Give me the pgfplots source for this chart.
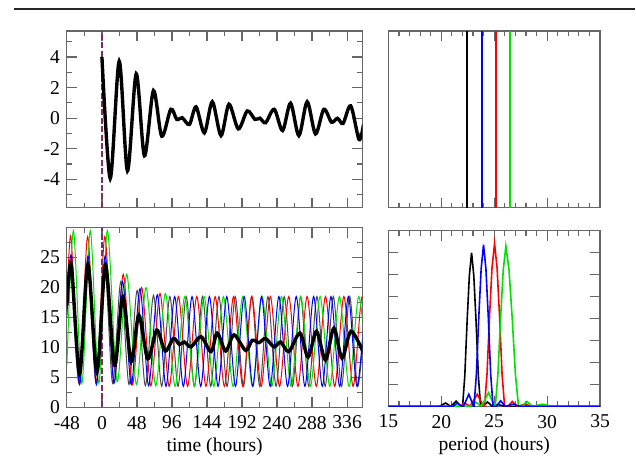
\documentclass[border=0pt]{standalone}
\usepackage{fontspec}
\setmainfont{Liberation Serif}
\usepackage{pgfplots}
\usepackage{pgfplotstable}
\pgfplotsset{compat=1.18}

\definecolor{maroonc}{RGB}{125,45,95}
\definecolor{grn}{RGB}{0,225,0}

% period traces of the four oscillators (extrema), time in hours
\pgfplotstableread{
t v
-48 16
-43 24
-31.5 4
-20 24
-8 4
3.5 24
14.7 4
25.9 21
37.1 3.8
48.3 19.5
59.5 3.6
70.7 18.7
81.9 3.5
93.1 18.5
104.3 3.5
115.5 18.5
126.7 3.5
137.9 18.5
149.1 3.5
160.3 18.5
171.5 3.5
182.7 18.5
193.9 3.5
205.1 18.5
216.3 3.5
227.5 18.5
238.7 3.5
249.9 18.5
261.1 3.5
272.3 18.5
283.5 3.5
294.7 18.5
305.9 3.5
317.1 18.5
328.3 3.5
339.5 18.5
350.7 3.5
361.9 18.5
}\oscblack

\pgfplotstableread{
t v
-48 15
-42 25.3
-30.5 3.8
-19 25.3
-7.5 3.8
4.5 25.3
16.4 4
28.3 21
40.2 3.8
52.1 19.8
64.0 3.6
75.9 18.8
87.8 3.5
99.7 18.5
111.6 3.5
123.5 18.5
135.4 3.5
147.3 18.5
159.2 3.5
171.1 18.5
183.0 3.5
194.9 18.5
206.8 3.5
218.7 18.5
230.6 3.5
242.5 18.5
254.4 3.5
266.3 18.5
278.2 3.5
290.1 18.5
302.0 3.5
313.9 18.5
325.8 3.5
337.7 18.5
349.6 3.5
361.5 18.5
}\oscblue

\pgfplotstableread{
t v
-48 16
-42.5 28.5
-31 4
-19.5 28.5
-7.7 4
4 28.5
16.6 4.2
29.2 22.2
41.8 3.8
54.4 20
67.0 3.6
79.6 19
92.2 3.5
104.8 18.5
117.4 3.5
130.0 18.5
142.6 3.5
155.2 18.5
167.8 3.5
180.4 18.5
193.0 3.5
205.6 18.5
218.2 3.5
230.8 18.5
243.4 3.5
256.0 18.5
268.6 3.5
281.2 18.5
293.8 3.5
306.4 18.5
319.0 3.5
331.6 18.5
344.2 3.5
356.8 18.5
369.4 3.5
}\oscred

\pgfplotstableread{
t v
-48 7
-39 29.5
-27.5 4
-16 29.5
-4.25 4
7.5 29.5
20.75 4.3
34.0 22.2
47.25 3.8
60.5 20
73.75 3.6
87.0 19
100.25 3.5
113.5 18.5
126.75 3.5
140.0 18.5
153.25 3.5
166.5 18.5
179.75 3.5
193.0 18.5
206.25 3.5
219.5 18.5
232.75 3.5
246.0 18.5
259.25 3.5
272.5 18.5
285.75 3.5
299.0 18.5
312.25 3.5
325.5 18.5
338.75 3.5
352.0 18.5
365.25 3.5
}\oscgreen

\pgfplotstableread{
t v
-48 17
-42 23.9
-30.6 5.6
-19.2 23.9
-6.8 5.9
4.9 23.7
17.3 7.0
28.7 18.5
40.1 7.6
50.6 15.4
62.9 8.1
75.2 12.9
86.6 9.4
98 11.5
106.2 10.5
113 10.9
122.2 10.1
135.8 11.8
149.5 9.3
158 12.4
169.6 9.4
181 12.1
197 9.5
206 11.2
215.2 10.8
224.3 11.5
235.7 10.1
244.9 10.9
256.2 9.3
271.3 12.4
282.6 8.4
294.1 12.7
306.4 7.9
317.8 13.2
329.1 8.2
341.4 12.7
358.8 9.0
}\oscmean

\pgfplotstableread{
t v
0 4.0
11.4 -3.94
23.7 3.72
35 -3.44
47 2.9
58.3 -2.46
70.6 1.8
82 -1.18
94.4 0.58
102.6 -0.08
110 0.03
119.9 -0.41
129 0.74
140.4 -0.96
151.3 1.07
163.2 -1.14
174.1 0.91
186.9 -0.7
199.2 0.47
209.7 -0.08
216.5 0.0
224.3 -0.3
236.1 0.58
247.6 -0.81
258.5 0.98
269.9 -1.14
281.3 1.07
292.7 -1.03
304.1 0.58
314.6 -0.26
322.8 -0.01
330.5 -0.34
341 0.8
352.4 -1.4
358.5 -0.4
}\phasediff

% spectra, period in hours
\pgfplotstableread{
p s
15 0
19.8 0
20.4 0.15
20.9 0
21.4 0.24
21.85 0
22.01 0
22.22 1.4
22.435 3.85
22.65 5.95
22.86 7.0
23.07 5.95
23.285 3.85
23.5 1.4
23.71 0
23.95 0
24.37 0.2
24.8 0
25.4 0.08
26.0 0
35 0
}\specblack

\pgfplotstableread{
p s
15 0
21.1 0
21.5 0.15
21.95 0
22.1 0
22.6 0.55
23.05 0
23.09 0
23.315 1.47
23.54 4.05
23.765 6.26
23.99 7.36
24.215 6.26
24.44 4.05
24.665 1.47
24.89 0
25.2 0
25.6 0.25
26.05 0
26.8 0.1
27.4 0
35 0
}\specblue

\pgfplotstableread{
p s
15 0
21.8 0
22.2 0.15
22.7 0
23.4 0.55
24.0 0
24.08 0
24.32 1.48
24.555 4.08
24.79 6.3
25.03 7.41
25.27 6.3
25.505 4.08
25.74 1.48
25.98 0
26.3 0
26.7 0.22
27.2 0
27.9 0.1
28.5 0
35 0
}\specred

\pgfplotstableread{
p s
15 0
22.7 0
23.2 0.2
23.8 0
24.46 0.62
25.05 0
25.1 0
25.35 1.46
25.6 4.0
25.85 6.2
26.1 7.29
26.4 6.2
26.7 4.0
27.0 1.46
27.3 0
27.6 0
28.1 0.22
28.6 0
29.6 0.1
30.3 0
35 0
}\specgreen

\pgfplotsset{
  panel/.style={
    scale only axis, anchor=south west,
    axis line style={black!60, line width=0.6pt},
    tick style={black!60, line width=0.6pt},
    major tick length=5pt, minor tick length=2.5pt,
    tick label style={font=\fontsize{9.8}{11}\selectfont},
    xticklabel style={yshift=-0.8pt},
    label style={font=\fontsize{9.8}{11}\selectfont},
    xlabel style={yshift=2.6pt},
    /pgf/number format/assume math mode=true,
  },
  timeaxis/.style={
    xmin=-48, xmax=357,
    xtick={-48,0,48,96,144,192,240,288,336},
    minor xtick={-24,24,72,120,168,216,264,312},
  },
  periodaxis/.style={
    xmin=15, xmax=35,
    xtick={15,20,25,30,35},
    minor xtick={16,17,18,19,21,22,23,24,26,27,28,29,31,32,33,34},
  },
}

\begin{document}
\begin{tikzpicture}
\path (0pt,0pt) rectangle (318pt,235pt);
\draw[line width=1pt, black!85] (7pt,230.6pt) -- (318pt,230.6pt);

% top left
\begin{axis}[panel, timeaxis, at={(33.5pt,131pt)}, width=148pt, height=88.5pt,
    ymin=-5.85, ymax=5.7, xticklabels={},
    ytick={-4,-2,0,2,4}, yticklabels={-4,-2,0,2,4},
    minor ytick={-5,-3,-1,1,3,5}]
  \addplot[maroonc, line width=0.7pt, dash pattern=on 3pt off 1.2pt] coordinates {(0,-5.85) (0,5.7)};
  \addplot[black, line width=1.7pt, smooth] table[x=t, y=v] {\phasediff};
\end{axis}

% bottom left
\begin{axis}[panel, timeaxis, at={(33.5pt,31pt)}, width=148pt, height=90pt,
    ymin=0, ymax=30,
    xticklabels={-48,0,48,96,144,192,240,288,336},
    ytick={0,5,10,15,20,25}, yticklabels={0,5,10,15,20,25},
    minor ytick={2.5,7.5,12.5,17.5,22.5,27.5},
    xlabel={time (hours)}]
  \addplot[black!70, line width=0.5pt, smooth] table[x=t, y=v] {\oscblack};
  \addplot[red, line width=0.5pt, smooth] table[x=t, y=v] {\oscred};
  \addplot[grn, line width=0.5pt, smooth] table[x=t, y=v] {\oscgreen};
  \addplot[blue, line width=0.5pt, smooth] table[x=t, y=v] {\oscblue};
  \addplot[maroonc, line width=0.7pt, dash pattern=on 3pt off 1.2pt] coordinates {(0,0) (0,30)};
  \addplot[black, line width=1.7pt, smooth] table[x=t, y=v] {\oscmean};
\end{axis}

% top right
\begin{axis}[panel, periodaxis, at={(194.5pt,131pt)}, width=106pt, height=88.5pt,
    ymin=0, ymax=1, xticklabels={}, ytick=\empty]
  \addplot[black, line width=1pt] coordinates {(22.4,0) (22.4,1)};
  \addplot[blue, line width=1pt] coordinates {(23.8,0) (23.8,1)};
  \addplot[red, line width=1pt] coordinates {(25.2,0) (25.2,1)};
  \addplot[grn, line width=1pt] coordinates {(26.5,0) (26.5,1)};
\end{axis}

% bottom right
\begin{axis}[panel, periodaxis, at={(194.5pt,31.5pt)}, width=106pt, height=88pt,
    ymin=0, ymax=8, ytick={1,2,3,4,5,6,7}, yticklabels={},
    xticklabels={15,20,25,30,35},
    xlabel={period (hours)}]
  \addplot[black, line width=0.8pt] table[x=p, y=s] {\specblack};
  \addplot[red, line width=0.8pt] table[x=p, y=s] {\specred};
  \addplot[grn, line width=0.8pt] table[x=p, y=s] {\specgreen};
  \addplot[blue, line width=0.8pt] table[x=p, y=s] {\specblue};
\end{axis}
\end{tikzpicture}
\end{document}
